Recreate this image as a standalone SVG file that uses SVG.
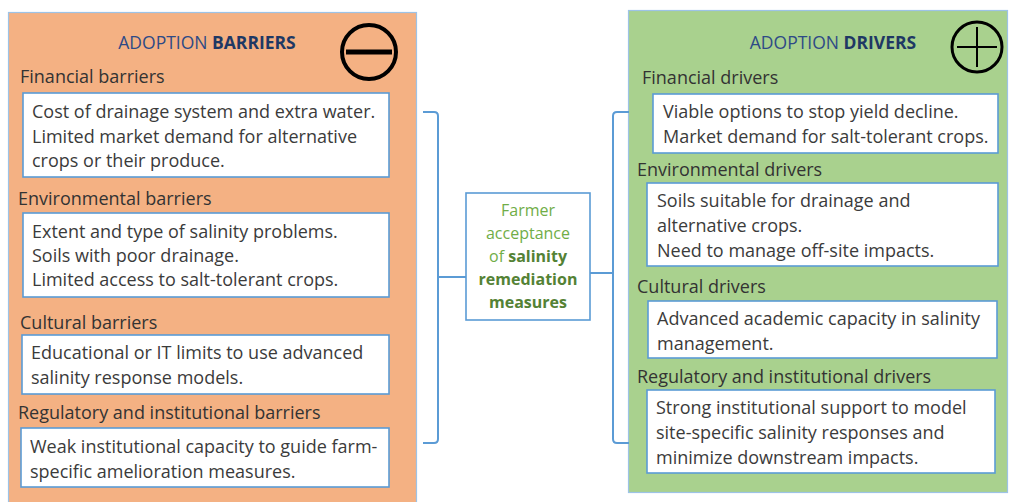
<svg xmlns="http://www.w3.org/2000/svg" width="1013" height="502" viewBox="0 0 1013 502">
<style>
text{font-family:"Open Sans","Liberation Sans",sans-serif}
.t{font-size:18px;fill:#3b3b3b}
.h{font-size:18px;fill:#333}
.title{font-size:17.5px;fill:#2e4a86}
.title tspan.b{font-weight:bold;fill:#1f3864}
.box{fill:#fff;stroke:#5b9bd5;stroke-width:1.6}
.c{font-size:16px;fill:#70ad47;text-anchor:middle}
.c tspan.b{font-weight:bold;fill:#548235}
.conn{fill:none;stroke:#5b9bd5;stroke-width:2}
</style>
<rect width="1013" height="502" fill="#fff"/>
<g id="barriers">
<rect x="8.5" y="12.5" width="408" height="495" fill="#f4b183" stroke="#9dc3e6" stroke-width="1.2"/>
<text class="title" x="207" y="49" text-anchor="middle">ADOPTION <tspan class="b">BARRIERS</tspan></text>
<circle cx="369" cy="52" r="27" fill="none" stroke="#000" stroke-width="4"/>
<line x1="346" y1="52" x2="392" y2="52" stroke="#000" stroke-width="5"/>
</g>
<g id="fin-barriers">
<text class="h" x="20" y="83">Financial barriers</text>
<rect class="box" x="23" y="93" width="366" height="84"/>
<text class="t" x="32" y="118">Cost of drainage system and extra water.</text>
<text class="t" x="32" y="143">Limited market demand for alternative</text>
<text class="t" x="32" y="167">crops or their produce.</text>
</g>
<g id="env-barriers">
<text class="h" x="18" y="205">Environmental barriers</text>
<rect class="box" x="23" y="213" width="366" height="84"/>
<text class="t" x="32" y="238">Extent and type of salinity problems.</text>
<text class="t" x="32" y="262">Soils with poor drainage.</text>
<text class="t" x="32" y="286">Limited access to salt-tolerant crops.</text>
</g>
<g id="cul-barriers">
<text class="h" x="20" y="329">Cultural barriers</text>
<rect class="box" x="22" y="335" width="367" height="59"/>
<text class="t" x="31" y="359">Educational or IT limits to use advanced</text>
<text class="t" x="31" y="384">salinity response models.</text>
</g>
<g id="reg-barriers">
<text class="h" x="18" y="419">Regulatory and institutional barriers</text>
<rect class="box" x="21" y="428" width="368" height="59"/>
<text class="t" x="30" y="453">Weak institutional capacity to guide farm-</text>
<text class="t" x="30" y="478">specific amelioration measures.</text>
</g>
<g id="drivers">
<rect x="628.5" y="10.5" width="379" height="482" fill="#a9d18e" stroke="#9dc3e6" stroke-width="1.2"/>
<text class="title" x="833" y="49" text-anchor="middle">ADOPTION <tspan class="b">DRIVERS</tspan></text>
<circle cx="977" cy="47" r="25" fill="none" stroke="#000" stroke-width="3"/>
<line x1="957" y1="47" x2="997" y2="47" stroke="#000" stroke-width="2"/>
<line x1="977" y1="27" x2="977" y2="67" stroke="#000" stroke-width="2"/>
</g>
<g id="fin-drivers">
<text class="h" x="642" y="84">Financial drivers</text>
<rect class="box" x="653" y="94" width="345" height="59"/>
<text class="t" x="663" y="118">Viable options to stop yield decline.</text>
<text class="t" x="663" y="143">Market demand for salt-tolerant crops.</text>
</g>
<g id="env-drivers">
<text class="h" x="637" y="176">Environmental drivers</text>
<rect class="box" x="647" y="183" width="351" height="83"/>
<text class="t" x="657" y="207">Soils suitable for drainage and</text>
<text class="t" x="657" y="232">alternative crops.</text>
<text class="t" x="657" y="257">Need to manage off-site impacts.</text>
</g>
<g id="cul-drivers">
<text class="h" x="637" y="293">Cultural drivers</text>
<rect class="box" x="648" y="301" width="349" height="57"/>
<text class="t" x="657" y="325">Advanced academic capacity in salinity</text>
<text class="t" x="657" y="350">management.</text>
</g>
<g id="reg-drivers">
<text class="h" x="637" y="383">Regulatory and institutional drivers</text>
<rect class="box" x="647" y="390" width="348" height="83"/>
<text class="t" x="656" y="414">Strong institutional support to model</text>
<text class="t" x="656" y="439">site-specific salinity responses and</text>
<text class="t" x="656" y="464">minimize downstream impacts.</text>
</g>
<g id="center">
<rect x="466" y="193" width="124" height="127" fill="#fff" stroke="#5b9bd5" stroke-width="1.6"/>
<text class="c" x="528" y="216">Farmer</text>
<text class="c" x="528" y="239">acceptance</text>
<text class="c" x="528" y="262">of <tspan class="b">salinity</tspan></text>
<text class="c" x="528" y="285"><tspan class="b">remediation</tspan></text>
<text class="c" x="528" y="308"><tspan class="b">measures</tspan></text>
</g>
<g id="connectors">
<path class="conn" d="M423 112 H434 Q438 112 438 116 V439 Q438 443 434 443 H423"/>
<path class="conn" d="M438 277 H466"/>
<path class="conn" d="M629 112 H617 Q613 112 613 116 V439 Q613 443 617 443 H629"/>
<path class="conn" d="M590 273 H613"/>
</g>
</svg>
